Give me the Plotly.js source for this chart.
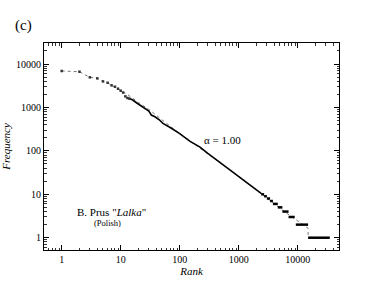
<!DOCTYPE html>
<html>
<head>
<meta charset="utf-8">
<script src="https://cdn.plot.ly/plotly-3.0.1.min.js"></script>
<style>html,body{margin:0;padding:0;background:#fff;}#chart{width:382px;height:295px;}</style>
</head>
<body>
<div id="chart"></div>
<script>
// top-ranked words (individual points)
const topRank = [1, 2, 3, 4, 5, 6, 7, 8, 9, 10, 11, 12, 13, 14];
const topFreq = [6900, 6650, 4940, 4680, 3980, 3700, 3230, 3000, 2700, 2430, 2200, 1800, 1650, 1600];

// dense middle part of the rank-frequency curve
const midRank = [14, 16, 19, 21, 25, 30, 33, 38, 45, 52, 70, 100, 150, 218, 300, 500, 1000, 1500, 2000, 2400];
const midFreq = [1600, 1480, 1250, 1136, 1000, 820, 668, 611, 520, 430, 340, 250, 165, 124, 88, 52, 26, 17, 13, 10.5];

// frequency plateaus in the tail
const plateauFreq  = [10, 9, 8, 7, 6, 5, 4, 3, 2, 1];
const plateauStart = [2400, 2700, 3000, 3400, 3800, 4600, 5500, 7000, 9300, 15000];
const plateauEnd   = [2700, 3000, 3400, 3800, 4600, 5500, 7000, 8900, 15000, 35000];

// dotted reference curve
const dotRank = [1, 2, 3, 4, 5, 6, 7, 8, 9, 10, 13, 20, 30, 50, 100, 1000, 5500, 15000, 15000];
const dotFreq = [6900, 6650, 4940, 4680, 3980, 3700, 3230, 3000, 2700, 2430, 2000, 1300, 900, 520, 250, 26, 4.3, 1.65, 1];

const xTickVals = [1, 10, 100, 1000, 10000];
const xTickText = ['1', '10', '100', '1000', '10000'];
const yTickVals = [1, 10, 100, 1000, 10000];
const yTickText = ['1', '10', '100', '1000', '10000'];

const px = [], py = [];
for (let i = 0; i < plateauFreq.length; i++) {
  px.push(plateauStart[i], plateauEnd[i], null);
  py.push(plateauFreq[i], plateauFreq[i], null);
}

const serif = 'Liberation Serif, Times New Roman, serif';

const traces = [
  {x: dotRank, y: dotFreq, mode: 'lines', line: {color: '#777', width: 1, dash: 'dot'}, hoverinfo: 'skip'},
  {x: midRank, y: midFreq, mode: 'lines', line: {color: '#000', width: 1.6}, hoverinfo: 'skip'},
  {x: px, y: py, mode: 'lines', line: {color: '#000', width: 2.5}, connectgaps: false, hoverinfo: 'skip'},
  {x: topRank, y: topFreq, mode: 'markers', marker: {color: '#333', size: 2.5, symbol: 'square'}, hoverinfo: 'skip'}
];

const axisCommon = {
  type: 'log',
  showgrid: false,
  zeroline: false,
  showline: true,
  linecolor: '#000',
  linewidth: 1,
  mirror: 'allticks',
  ticks: 'inside',
  ticklen: 5,
  tickwidth: 1,
  tickcolor: '#000',
  tickmode: 'array',
  tickfont: {family: serif, size: 10, color: '#000'},
  minor: {ticks: 'inside', ticklen: 2.5, tickwidth: 0.8, tickcolor: '#000', showgrid: false, dtick: 'D1'}
};

const layout = {
  width: 382, height: 295,
  margin: {l: 44, r: 43, t: 43, b: 45},
  paper_bgcolor: '#fff', plot_bgcolor: '#fff',
  showlegend: false,
  xaxis: Object.assign({}, axisCommon, {
    range: [-0.3, 4.70],
    tickvals: xTickVals, ticktext: xTickText,
    title: {text: '<i>Rank</i>', font: {family: serif, size: 11, color: '#000'}, standoff: 0}
  }),
  yaxis: Object.assign({}, axisCommon, {
    range: [-0.283, 4.484],
    tickvals: yTickVals, ticktext: yTickText,
    title: {text: '<i>Frequency</i>', font: {family: serif, size: 11, color: '#000'}, standoff: 6}
  }),
  annotations: [
    {xref: 'paper', yref: 'paper', x: -0.105, y: 1 + (43 - 25) / 207, xanchor: 'left', yanchor: 'middle', text: '(c)', showarrow: false, font: {family: serif, size: 15, color: '#000'}},
    {xref: 'x', yref: 'y', x: Math.log10(540), y: Math.log10(180), text: 'α = 1.00', showarrow: false, font: {family: serif, size: 11, color: '#000'}},
    {xref: 'x', yref: 'y', x: Math.log10(7.1), y: Math.log10(3.97), text: 'B. Prus "<i>Lalka</i>"', showarrow: false, font: {family: serif, size: 11, color: '#000'}},
    {xref: 'x', yref: 'y', x: Math.log10(5.9), y: Math.log10(2.22), text: '(Polish)', showarrow: false, font: {family: serif, size: 8.5, color: '#000'}}
  ]
};

Plotly.newPlot('chart', traces, layout, {staticPlot: true, displayModeBar: false});
</script>
</body>
</html>
